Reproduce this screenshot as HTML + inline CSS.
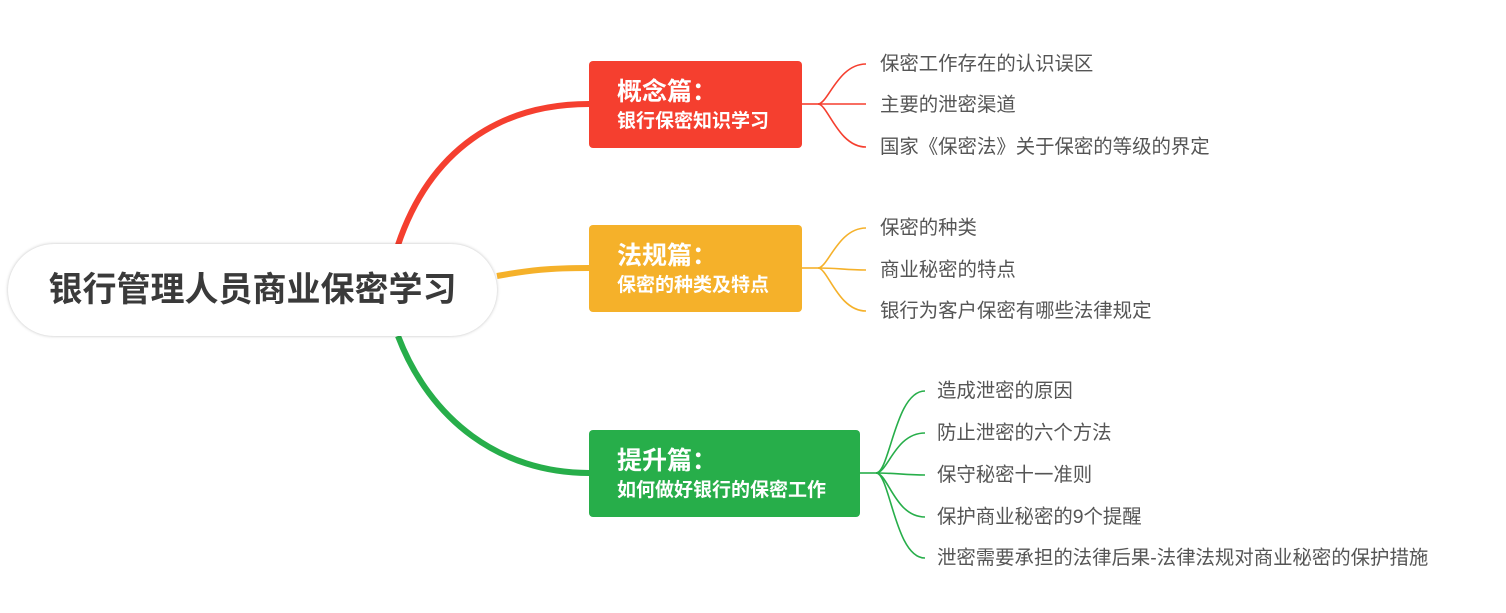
<!DOCTYPE html>
<html><head><meta charset="utf-8"><style>
body{margin:0;width:1506px;height:613px;background:#fff;position:relative;overflow:hidden;font-family:"Liberation Sans","Noto Sans CJK SC",sans-serif}
.box{position:absolute;border-radius:4px;color:#fff;font-weight:bold;box-sizing:border-box;padding-left:28px}
.box .t{font-size:25px;line-height:28px;margin-top:17px}
.box .s{font-size:19px;line-height:22px;margin-top:5px}
.c{position:absolute;font-size:19.4px;color:#555;line-height:22px;white-space:nowrap}
.root{position:absolute;left:8px;top:244px;width:489px;height:92px;border-radius:46px;background:#fff;box-shadow:0 0 3px rgba(0,0,0,.25);font-size:34px;font-weight:bold;color:#3a3a3a;text-align:center;line-height:92px}
</style></head><body>
<svg width="1506" height="613" style="position:absolute;left:0;top:0" fill="none">
<path d="M398 245 C430 150 500 104 589 104" stroke="#f53f2f" stroke-width="6"/>
<path d="M497 276 C530 270 550 268 589 268" stroke="#f5b12a" stroke-width="6"/>
<path d="M398 336 C430 420 500 473 589 473" stroke="#27ae4a" stroke-width="6"/>
<g stroke="#f53f2f" stroke-width="1.6">
<path d="M802 104 H818"/><path d="M818 104 C828 104 838 64 866 64"/><path d="M818 104 H866"/><path d="M818 104 C828 104 838 147 866 147"/></g>
<g stroke="#f5b12a" stroke-width="1.6">
<path d="M802 268 H818"/><path d="M818 268 C828 268 838 228 866 228"/><path d="M818 268 C838 268 845 270 866 270"/><path d="M818 268 C828 268 838 311 866 311"/></g>
<g stroke="#27ae4a" stroke-width="1.6">
<path d="M860 473 H876"/><path d="M876 473 C890 473 895 391 925 391"/><path d="M876 473 C888 473 895 433 925 433"/><path d="M876 473 C895 473 905 475 925 475"/><path d="M876 473 C888 473 895 517 925 517"/><path d="M876 473 C890 473 895 558 925 558"/></g>
</svg>
<div class="root">银行管理人员商业保密学习</div>
<div class="box" style="left:589px;top:61px;width:213px;height:87px;background:#f53f2f"><div class="t">概念篇：</div><div class="s">银行保密知识学习</div></div>
<div class="box" style="left:589px;top:225px;width:213px;height:87px;background:#f5b12a"><div class="t">法规篇：</div><div class="s">保密的种类及特点</div></div>
<div class="box" style="left:589px;top:430px;width:271px;height:87px;background:#27ae4a"><div class="t">提升篇：</div><div class="s">如何做好银行的保密工作</div></div>
<div class="c" style="left:880px;top:53px">保密工作存在的认识误区</div>
<div class="c" style="left:880px;top:94px">主要的泄密渠道</div>
<div class="c" style="left:880px;top:136px">国家《保密法》关于保密的等级的界定</div>
<div class="c" style="left:880px;top:217px">保密的种类</div>
<div class="c" style="left:880px;top:259px">商业秘密的特点</div>
<div class="c" style="left:880px;top:300px">银行为客户保密有哪些法律规定</div>
<div class="c" style="left:937px;top:380px">造成泄密的原因</div>
<div class="c" style="left:937px;top:422px">防止泄密的六个方法</div>
<div class="c" style="left:937px;top:464px">保守秘密十一准则</div>
<div class="c" style="left:937px;top:506px">保护商业秘密的9个提醒</div>
<div class="c" style="left:937px;top:547px">泄密需要承担的法律后果-法律法规对商业秘密的保护措施</div>
</body></html>
